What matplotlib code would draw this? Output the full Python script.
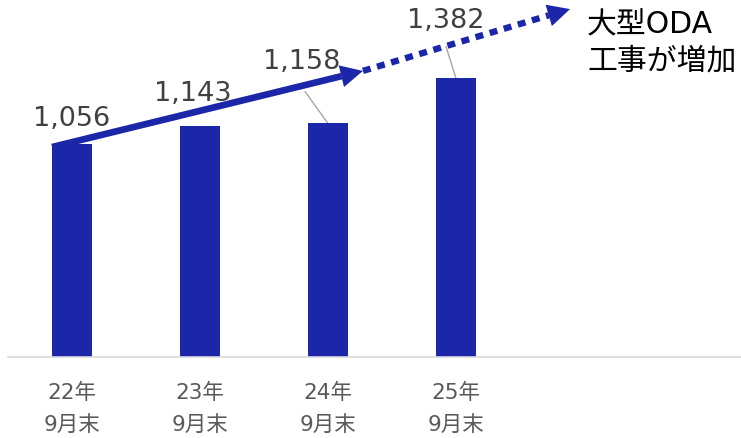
import matplotlib
matplotlib.use("Agg")
import matplotlib.pyplot as plt

FAM = ['DejaVu Sans', 'Noto Sans CJK JP']
plt.rcParams['font.family'] = FAM

categories = ["22年\n9月末", "23年\n9月末", "24年\n9月末", "25年\n9月末"]
values = [1056, 1143, 1158, 1382]
labels = ["1,056", "1,143", "1,158", "1,382"]
# label offsets (pixels) relative to bar top
label_offsets = [(0, 26), (-7, 33), (-26, 62), (-10, 58)]
leaders = {2: (-23, 32), 3: (-10, 32)}

BAR = "#1b27a8"
W, H = 741, 439
fig = plt.figure(figsize=(W / 100, H / 100), dpi=100)
base_px = 357.7
ax = fig.add_axes([8 / W, (H - base_px) / H, 1 - 8 / W, base_px / H])
ax.set_xlim(-0.5, (741 - 72) / 128)
ax.set_ylim(0, base_px / 0.2014)

x = list(range(len(values)))
ax.bar(x, values, width=40 / 128, color=BAR, zorder=2)

for sp in ['top', 'right', 'left']:
    ax.spines[sp].set_visible(False)
ax.spines['bottom'].set_color('#d9d9d9')
ax.spines['bottom'].set_linewidth(1.2)
ax.set_yticks([])
ax.set_xticks(x)
ax.set_xticklabels(categories, fontsize=15.5, color='#595959', linespacing=1.72)
ax.tick_params(axis='x', length=0, pad=18)

for i, (v, lab, off) in enumerate(zip(values, labels, label_offsets)):
    ax.annotate(lab, xy=(i, v), xytext=off, textcoords='offset pixels',
                ha='center', va='center', fontsize=19.5, color='#404040', zorder=4)
for i, off in leaders.items():
    ax.annotate('', xy=(i, values[i]), xytext=off, textcoords='offset pixels',
                arrowprops=dict(arrowstyle='-', color='#a6a6a6', lw=1.0,
                                shrinkA=0, shrinkB=0), zorder=1)

# trend arrows (data coords)
s0 = (-0.156, 1041)
s_base = (2.106, 1393)
s_tip = (2.273, 1419)
d_base = (3.726, 1695)
d_tip = (3.891, 1726)

ax.plot([s0[0], s_base[0]], [s0[1], s_base[1]], color=BAR, lw=4.8,
        solid_capstyle='butt', zorder=3, clip_on=False)
ax.annotate('', xy=s_tip, xytext=s_base,
            arrowprops=dict(arrowstyle='-|>,head_length=1.6,head_width=0.8',
                            mutation_scale=10, lw=0, color=BAR,
                            shrinkA=0, shrinkB=0), zorder=3)
ax.plot([s_tip[0], d_base[0]], [s_tip[1], d_base[1]], color=BAR, lw=4.6,
        linestyle=(0, (1.25, 1.05)), dash_capstyle='butt', zorder=3, clip_on=False)
ax.annotate('', xy=d_tip, xytext=d_base,
            arrowprops=dict(arrowstyle='-|>,head_length=1.6,head_width=0.8',
                            mutation_scale=10, lw=0, color=BAR,
                            shrinkA=0, shrinkB=0), zorder=3)

ax.annotate("大型ODA", xy=(587, H - 25), xycoords='figure pixels',
            ha='left', va='center', fontsize=21.5, color='black')
ax.annotate("工事が増加", xy=(587, H - 61), xycoords='figure pixels',
            ha='left', va='center', fontsize=21.5, color='black')

fig.savefig("out.png", dpi=100)
